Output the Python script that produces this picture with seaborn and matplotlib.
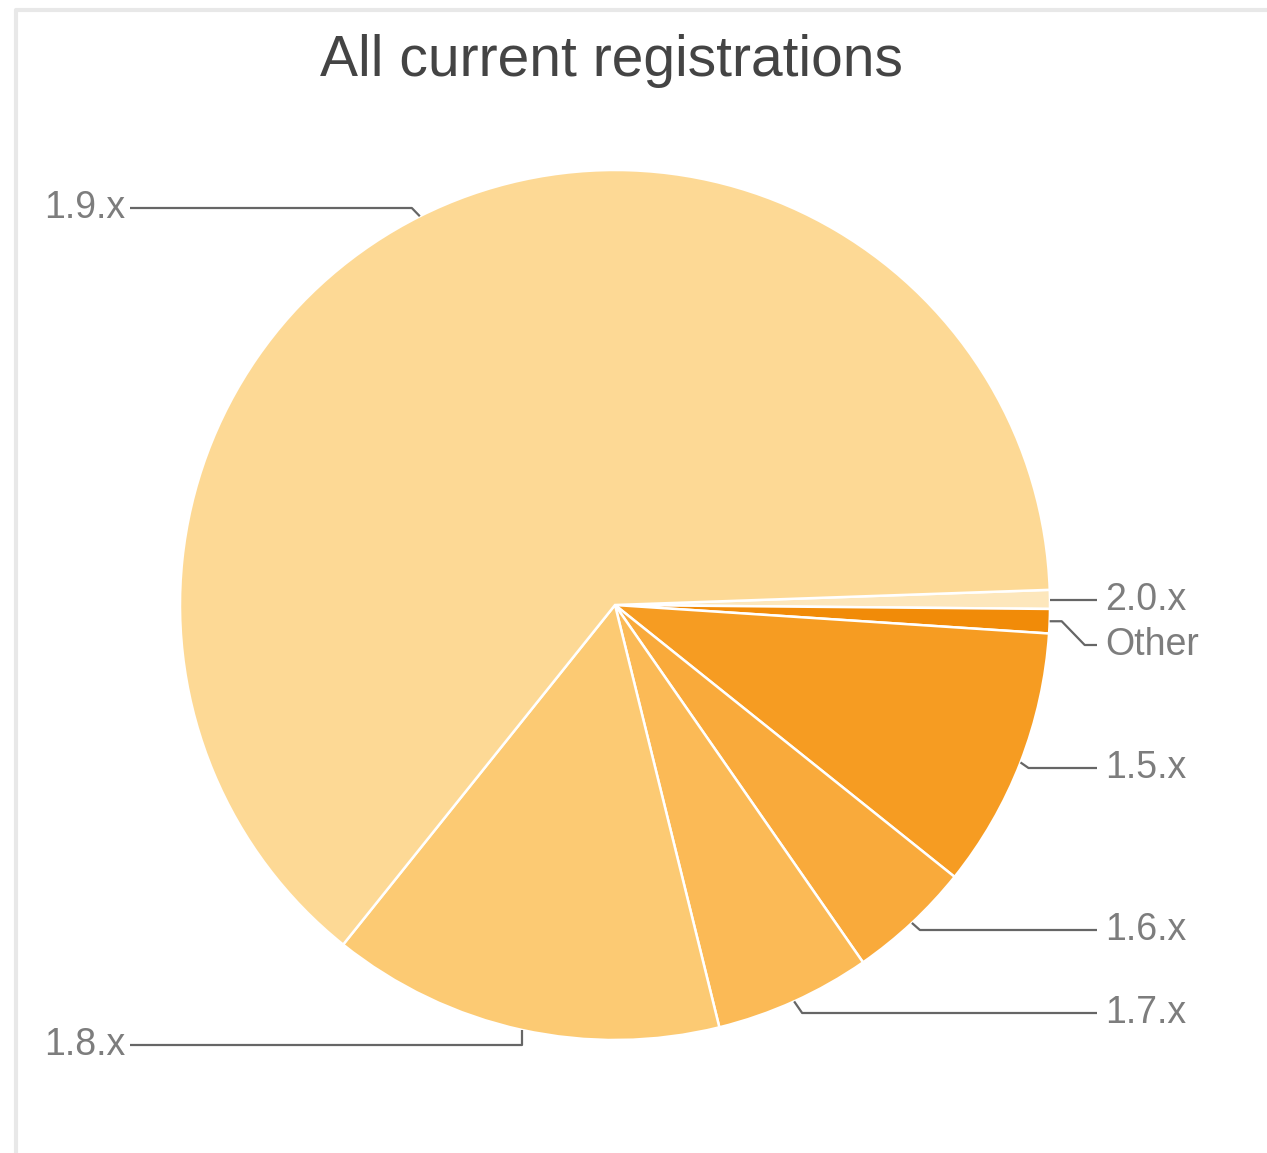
import numpy as np
import matplotlib
matplotlib.use('Agg')
import matplotlib.pyplot as plt
import seaborn as sns

# data (share of registrations, %), clockwise from the 2.0.x slice
versions = ['2.0.x', 'Other', '1.5.x', '1.6.x', '1.7.x', '1.8.x', '1.9.x']
shares = [0.7, 0.9, 9.7, 4.6, 5.8, 14.6, 63.7]
colors = ['#FDE7BC', '#F18B08', '#F69C22', '#F9AA3B', '#FBBA56', '#FCCA73', '#FDD995']

# label layout (pixel rows from top of the image)
label_rows = [600, 645, 768, 930, 1013, 1045, 208]

sns.set_theme(style='white')
plt.rcParams['font.family'] = ['Liberation Sans', 'DejaVu Sans']

W, H = 1267, 1153
fig = plt.figure(figsize=(W / 100, H / 100), dpi=100)
ax = fig.add_axes([0, 0, 1, 1])

cx, cy, r = 615, H - 605, 435
wedges, _ = ax.pie(shares, colors=colors, startangle=2, counterclock=False,
                   center=(cx, cy), radius=r,
                   wedgeprops=dict(edgecolor='white', linewidth=1.8))
ax.set_xlim(0, W)
ax.set_ylim(0, H)
ax.set_aspect('auto')
ax.axis('off')

# leader lines and labels
for w, name, row in zip(wedges, versions, label_rows):
    mid = np.deg2rad((w.theta1 + w.theta2) / 2)
    ax_x = cx + r * np.cos(mid)
    ax_y = cy + r * np.sin(mid)
    ly = H - row
    side = 1 if np.cos(mid) > 0 else -1
    if side > 0:
        end_x = 1097
    else:
        end_x = 130
    dy = abs(ly - ax_y)
    if name == '1.8.x':
        xs, ys = [ax_x, ax_x, end_x], [ax_y, ly, ly]
    elif dy > 20:
        # horizontal stub, diagonal step, then along to the label
        xs = [ax_x, ax_x + 12 * side, ax_x + 35 * side, end_x]
        ys = [ax_y, ax_y, ly, ly]
    elif dy > 4:
        xs, ys = [ax_x, ax_x + 8 * side, end_x], [ax_y, ly, ly]
    else:
        xs, ys = [ax_x, end_x], [ly, ly]
    ax.plot(xs, ys, color='#666666', lw=1.6, solid_capstyle='butt', zorder=1)
    if side > 0:
        ax.text(end_x + 8, ly, name, ha='left', va='center', fontsize=27, color='#7d7d7d')
    else:
        ax.text(end_x - 5, ly, name, ha='right', va='center', fontsize=27, color='#7d7d7d')

ax.text(611, H - 61, 'All current registrations', ha='center', va='center',
        fontsize=41, color='#444444')

# light card border
ax.plot([16, 16, W], [0, H - 10, H - 10], color='#e8e8e8', lw=3, zorder=0)

fig.savefig('out.png', dpi=100)
